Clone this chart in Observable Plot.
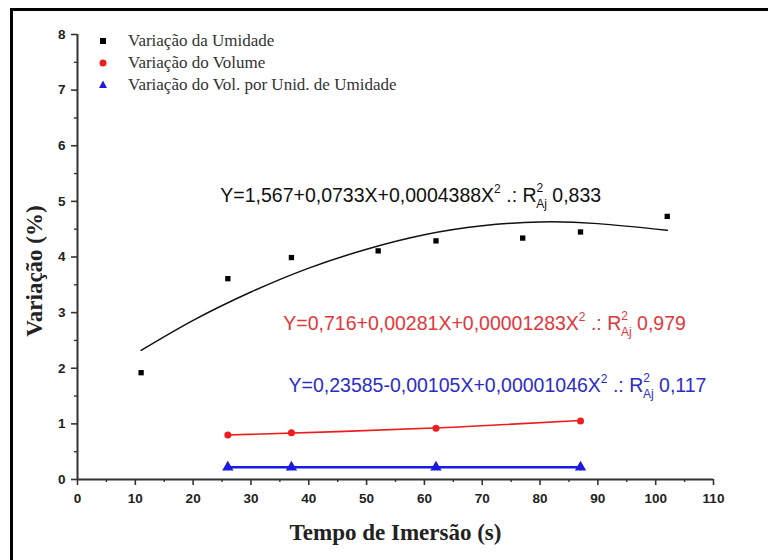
<!DOCTYPE html>
<html><head><meta charset="utf-8">
<script src="https://cdn.jsdelivr.net/npm/d3@7"></script>
<script src="https://cdn.jsdelivr.net/npm/@observablehq/plot@0.6"></script>
<style>
html,body{margin:0;padding:0;background:#fff;overflow:hidden;width:768px;height:560px}
#wrap{position:relative;width:768px;height:560px}
#chart{position:absolute;left:0;top:0}
#border{position:absolute;left:10px;top:8px;width:800px;height:600px;border:3px solid #000;box-sizing:border-box;pointer-events:none}
#legend{position:absolute;left:96px;top:30px;font-family:"Liberation Serif","Times New Roman",serif;font-size:17px;color:#333}
.row{display:flex;align-items:center;height:22px;white-space:nowrap}
.row svg{width:14px;height:14px;margin-right:18px;flex:none}
</style></head><body>
<div id="wrap"><div id="chart"></div><div id="legend"></div><div id="border"></div></div>
<script>
// ---- data ----
const seriesNames = ["Variação da Umidade", "Variação do Volume", "Variação do Vol. por Unid. de Umidade"];
const seriesColors = ["#000000", "#ee1c1c", "#1a1ae0"];

const tempoUmidade = [11, 26, 37, 52, 62, 77, 87, 102];
const umidade = [1.92, 3.61, 3.99, 4.11, 4.29, 4.34, 4.45, 4.73];

const tempoVolume = [26, 37, 62, 87];
const volume = [0.80, 0.84, 0.92, 1.05];
const volPorUmidade = [0.22, 0.22, 0.22, 0.22];

// fitted curves
const fitUmidX = [11, 20, 30, 40, 50, 60, 70, 80, 90, 102];
const fitUmidY = [2.32, 2.86, 3.37, 3.80, 4.14, 4.40, 4.56, 4.63, 4.60, 4.48];
const fitVolX = [26, 45, 65, 87];
const fitVolY = [0.80, 0.86, 0.94, 1.06];
const fitVpuX = [26, 87];
const fitVpuY = [0.22, 0.22];

// equations
const eqLabels = ["Y=1,567+0,0733X+0,0004388X", "Y=0,716+0,00281X+0,00001283X", "Y=0,23585-0,00105X+0,00001046X"];
const eqR2 = ["0,833", "0,979", "0,117"];
const eqColors = ["#111111", "#e2373a", "#2c2cc8"];
const eqAnchorX = [24.7, 35.6, 36.5];
const eqAnchorY = [5.10, 2.80, 1.69];

// ticks
const xTicks = [0, 10, 20, 30, 40, 50, 60, 70, 80, 90, 100, 110];
const xMinor = [5, 15, 25, 35, 45, 55, 65, 75, 85, 95, 105];
const yTicks = [0, 1, 2, 3, 4, 5, 6, 7, 8];
const yMinor = [0.5, 1.5, 2.5, 3.5, 4.5, 5.5, 6.5, 7.5];

const xLabel = "Tempo de Imersão (s)";
const yLabel = "Variação (%)";

// ---- tables ----
const umidData = tempoUmidade.map((x, i) => ({x, y: umidade[i]}));
const volData = tempoVolume.map((x, i) => ({x, y: volume[i]}));
const vpuData = tempoVolume.map((x, i) => ({x, y: volPorUmidade[i]}));
const fitUmid = fitUmidX.map((x, i) => ({x, y: fitUmidY[i]}));
const fitVol = fitVolX.map((x, i) => ({x, y: fitVolY[i]}));
const fitVpu = fitVpuX.map((x, i) => ({x, y: fitVpuY[i]}));
const eqData = eqLabels.map((t, i) => ({t, x: eqAnchorX[i], y: eqAnchorY[i], c: eqColors[i]}));

const sans = "'Liberation Sans', Arial, sans-serif";
const serif = "'Liberation Serif', 'Times New Roman', serif";
const axisColor = "#333";

const chart = Plot.plot({
  width: 768, height: 560,
  marginLeft: 77, marginRight: 55, marginTop: 34, marginBottom: 81,
  x: {domain: [0, 110]},
  y: {domain: [0, 8]},
  style: {fontFamily: sans, background: "transparent", color: "#222", fontSize: "13.5px", fontWeight: "bold"},
  marks: [
    Plot.axisX(xTicks, {tickSize: 6, tickPadding: 8, fontSize: 13.5, fontWeight: "bold", stroke: axisColor, strokeWidth: 1.6, label: null, tickFormat: d => String(d)}),
    Plot.axisX(xMinor, {tickSize: 3, stroke: axisColor, strokeWidth: 1.4, label: null, tickFormat: () => ""}),
    Plot.axisY(yTicks, {tickSize: 6, tickPadding: 6, fontSize: 13.5, fontWeight: "bold", stroke: axisColor, strokeWidth: 1.6, label: null, tickFormat: d => String(d)}),
    Plot.axisY(yMinor, {tickSize: 3, stroke: axisColor, strokeWidth: 1.4, label: null, tickFormat: () => ""}),
    Plot.ruleY([0], {x1: 0, x2: 110, stroke: axisColor, strokeWidth: 2}),
    Plot.ruleX([0], {y1: 0, y2: 8, stroke: axisColor, strokeWidth: 2}),
    Plot.line(fitUmid, {x: "x", y: "y", curve: "natural", stroke: "#111", strokeWidth: 1.5}),
    Plot.line(fitVol, {x: "x", y: "y", curve: "natural", stroke: seriesColors[1], strokeWidth: 1.6}),
    Plot.line(fitVpu, {x: "x", y: "y", stroke: seriesColors[2], strokeWidth: 2.6}),
    Plot.dot(umidData, {x: "x", y: "y", symbol: "square", r: 3, fill: seriesColors[0]}),
    Plot.dot(volData, {x: "x", y: "y", symbol: "circle", r: 3.5, fill: seriesColors[1]}),
    Plot.dot(vpuData, {x: "x", y: "y", symbol: "triangle", r: 4.2, fill: seriesColors[2]}),
    Plot.text(eqData, {x: "x", y: "y", text: "t", fill: "c", textAnchor: "start", lineAnchor: "middle", fontSize: 19.5, fontWeight: "normal", fontFamily: sans}),
    Plot.text([xLabel], {frameAnchor: "bottom", textAnchor: "middle", dy: 53, fontFamily: serif, fontWeight: "bold", fontSize: 23, fill: "#222", lineAnchor: "middle"}),
    Plot.text([yLabel], {frameAnchor: "left", textAnchor: "middle", rotate: -90, dx: -43, dy: 14, fontFamily: serif, fontWeight: "bold", fontSize: 23, fill: "#222", lineAnchor: "middle"})
  ]
});

// rich equation text: superscripts and subscripts
d3.select(chart).selectAll("text").each(function() {
  const t = this.textContent;
  const i = eqLabels.indexOf(t);
  if (i < 0) return;
  const sel = d3.select(this);
  sel.text(null);
  sel.append("tspan").text(t);
  sel.append("tspan").attr("font-size", 12).attr("dy", -9).text("2");
  sel.append("tspan").attr("dy", 9).text(" .: R");
  sel.append("tspan").attr("font-size", 12).attr("dy", -10).text("2");
  sel.append("tspan").attr("font-size", 12).attr("dx", -7).attr("dy", 16).text("Aj");
  sel.append("tspan").attr("dy", -6).text(" " + eqR2[i]);
});

document.getElementById("chart").appendChild(chart);

// legend
const symbols = [
  '<rect x="4" y="4" width="6" height="6" fill="COLOR"/>',
  '<circle cx="7" cy="7" r="3.5" fill="COLOR"/>',
  '<path d="M7,2.5 L11,10 L3,10 Z" fill="COLOR"/>'
];
const legend = document.getElementById("legend");
seriesNames.forEach((name, i) => {
  const row = document.createElement("div");
  row.className = "row";
  row.innerHTML = `<svg viewBox="0 0 14 14">${symbols[i].replace("COLOR", seriesColors[i])}</svg><span>${name}</span>`;
  legend.appendChild(row);
});
</script></body></html>
